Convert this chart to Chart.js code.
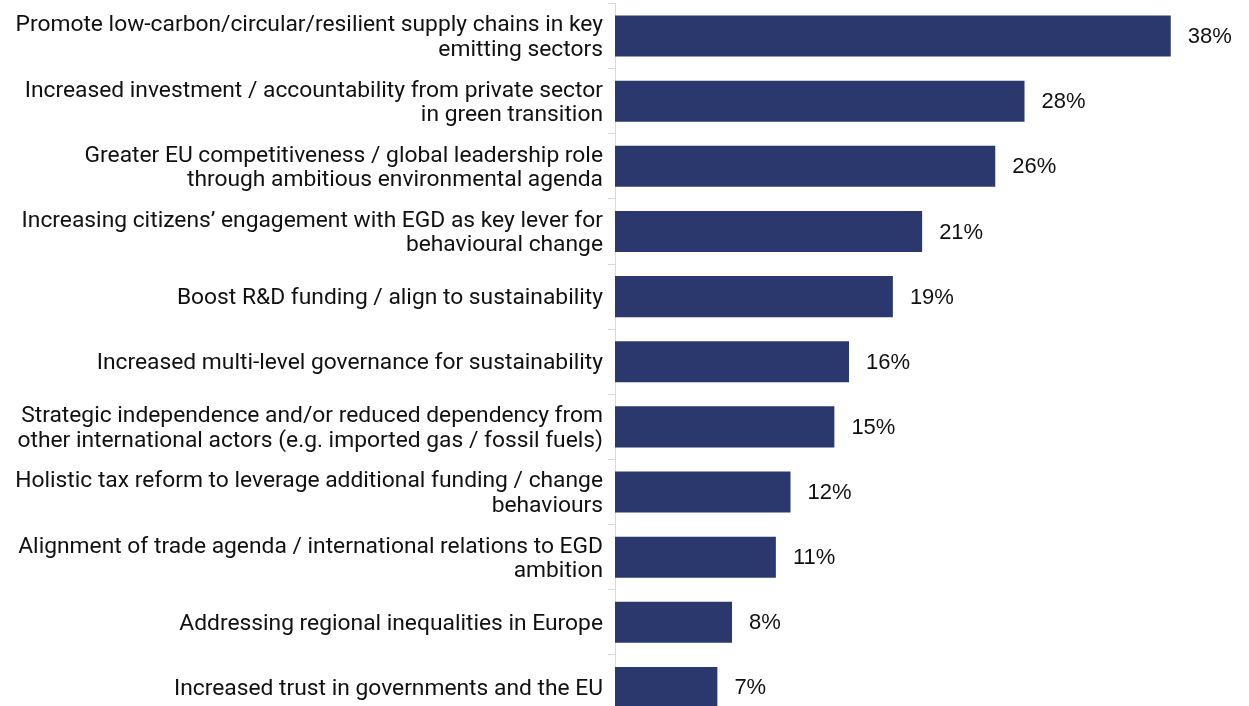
<!DOCTYPE html>
<html><head><meta charset="utf-8">
<script src="https://cdn.jsdelivr.net/npm/chart.js@4/dist/chart.umd.min.js"></script>
<style>html,body{margin:0;padding:0;background:#fff;overflow:hidden}#wrap{position:relative;width:1249px;height:720px}</style>
</head><body><div id="wrap"><canvas id="c"></canvas></div>
<script>
const categories = [
  ["Promote low-carbon/circular/resilient supply chains in key","emitting sectors"],
  ["Increased investment / accountability from private sector","in green transition"],
  ["Greater EU competitiveness / global leadership role","through ambitious environmental agenda"],
  ["Increasing citizens\u2019 engagement with EGD as key lever for","behavioural change"],
  "Boost R&D funding / align to sustainability",
  "Increased multi-level governance for sustainability",
  ["Strategic independence and/or reduced dependency from","other international actors (e.g. imported gas / fossil fuels)"],
  ["Holistic tax reform to leverage additional funding / change","behaviours"],
  ["Alignment of trade agenda / international relations to EGD","ambition"],
  "Addressing regional inequalities in Europe",
  "Increased trust in governments and the EU"
];
const values = [38, 28, 26, 21, 19, 16, 15, 12, 11, 8, 7];
const valueLabels = values.map(v => v + "%");

const valueLabelPlugin = {
  id: 'valueLabels',
  afterDatasetsDraw(chart) {
    const c = chart.ctx;
    const meta = chart.getDatasetMeta(0);
    c.save();
    c.font = "22px 'Liberation Sans', Arial, sans-serif";
    c.fillStyle = "#111";
    c.textAlign = "left";
    c.textBaseline = "middle";
    meta.data.forEach((bar, i) => { c.fillText(valueLabels[i], bar.x + 17, bar.y + 1); });
    c.restore();
  }
};

new Chart(document.getElementById('c'), {
  type: 'bar',
  data: { labels: categories, datasets: [{ data: values, backgroundColor: '#2B386E', barPercentage: 0.63, categoryPercentage: 1 }] },
  options: {
    indexAxis: 'y', responsive: true, maintainAspectRatio: false, animation: false,
    layout: { padding: { top: 3.5, right: 49, bottom: 0, left: 0 } },
    plugins: { legend: { display: false }, tooltip: { enabled: false } },
    scales: {
      x: { display: false, min: 0, max: 40 },
      y: {
        afterFit(s) { s.width = 615; s.paddingTop = 0; s.paddingBottom = 0; },
        grid: { drawOnChartArea: false, drawTicks: true, tickLength: 7, color: '#d9d9d9', offset: true },
        border: { color: '#d9d9d9' },
        ticks: { padding: 5, labelOffset: 2, color: '#111', font: { family: "Roboto, 'Liberation Sans', sans-serif", size: 22.8, lineHeight: 1.08 } }
      }
    }
  },
  plugins: [valueLabelPlugin]
});
</script></body></html>
